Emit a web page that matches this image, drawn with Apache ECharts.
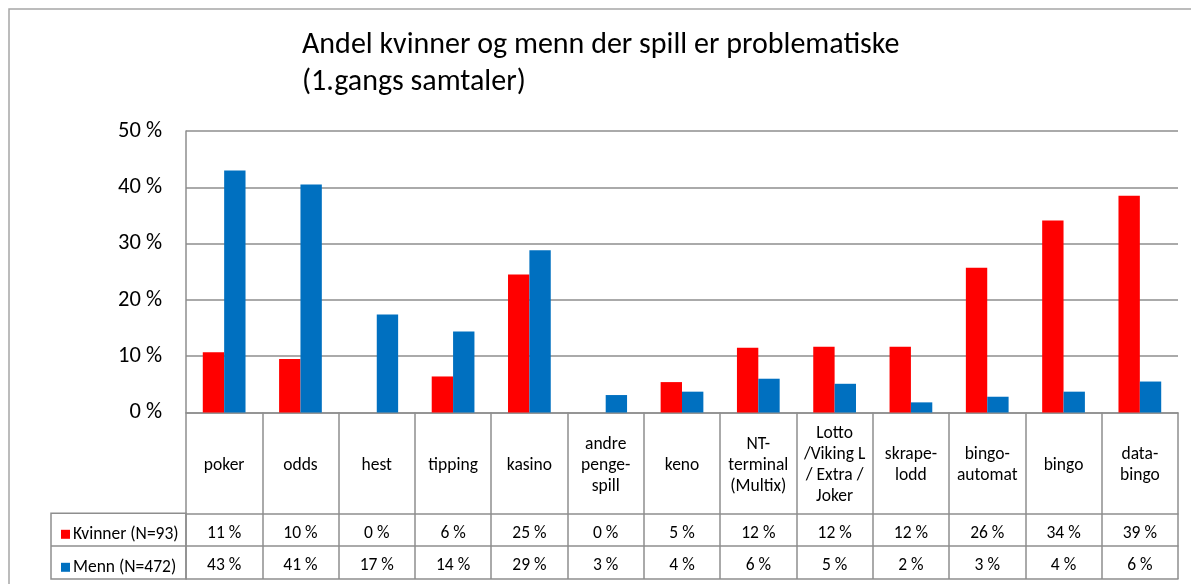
<!DOCTYPE html>
<html>
<head>
<meta charset="utf-8">
<script src="https://cdn.jsdelivr.net/npm/echarts@6/dist/echarts.min.js"></script>
<style>
  html, body { margin: 0; padding: 0; background: #fff; }
  #chart { width: 1191px; height: 584px; }
</style>
</head>
<body>
<div id="chart"></div>
<script>
// kategorier og verdier (andel i %)
var categories = ['poker', 'odds', 'hest', 'tipping', 'kasino', 'andre\npenge-\nspill', 'keno',
  'NT-\nterminal\n(Multix)', 'Lotto\n/Viking L\n/ Extra /\nJoker', 'skrape-\nlodd',
  'bingo-\nautomat', 'bingo', 'data-\nbingo'];
var kvinner = [10.7, 9.5, 0, 6.4, 24.5, 0, 5.4, 11.5, 11.7, 11.7, 25.7, 34.1, 38.5];
var menn = [43.0, 40.5, 17.4, 14.4, 28.8, 3.1, 3.7, 6.0, 5.1, 1.8, 2.8, 3.7, 5.5];
var seriesNames = ['Kvinner (N=93)', 'Menn (N=472)'];
var yTicks = [0, 10, 20, 30, 40, 50];

var FONT = 'Carlito, Lato, sans-serif';
var GRAY = '#8e8e8e';

// plassering av plott og tabell
var gridLeft = 186, gridTop = 131, gridRight = 13, gridBottom = 171.5;
var row1 = 100.8, row2 = 133.5, row3 = 166.5;   // tabellinjer under x-aksen
var legendLeft = 51;

var pct = function(v){ return Math.round(v) + ' %'; };

var chart = echarts.init(document.getElementById('chart'));
var axisBottom = 584 - gridBottom;

var option = {
  animation: false,
  textStyle: { fontFamily: FONT },
  title: {
    text: 'Andel kvinner og menn der spill er problematiske\n(1.gangs samtaler)',
    left: 302, top: 27, padding: 0,
    textStyle: { fontFamily: FONT, fontSize: 30, lineHeight: 37, fontWeight: 'normal', color: '#000' }
  },
  legend: {
    orient: 'vertical',
    left: legendLeft + 5, top: axisBottom + row1 + 5,
    itemWidth: 9, itemHeight: 9, itemGap: 11,
    icon: 'rect',
    data: seriesNames,
    textStyle: { fontFamily: FONT, fontSize: 17.5, lineHeight: 22, color: '#000', padding: [0, 0, 0, -2] }
  },
  grid: { left: gridLeft, top: gridTop, right: gridRight, bottom: gridBottom, containLabel: false },
  yAxis: {
    type: 'value', min: yTicks[0], max: yTicks[yTicks.length - 1], interval: 10,
    axisLine: { show: true, lineStyle: { color: GRAY, width: 1.5 } },
    axisTick: { show: false },
    splitLine: { lineStyle: { color: GRAY, width: 1.5 } },
    axisLabel: { formatter: '{value} %', fontSize: 22.5, color: '#000', margin: 24, fontFamily: FONT }
  },
  xAxis: [
    {
      type: 'category', data: categories, position: 'bottom',
      axisLine: { onZero: false, lineStyle: { color: GRAY, width: 1.5 } },
      axisTick: { show: true, interval: 0, length: row3, lineStyle: { color: GRAY, width: 1.5 } },
      axisLabel: { interval: 0, fontSize: 17.5, lineHeight: 21, color: '#000', margin: 53, verticalAlign: 'middle', fontFamily: FONT }
    },
    {
      type: 'category', data: categories, position: 'bottom', offset: row1,
      axisLine: { onZero: false, lineStyle: { color: GRAY, width: 1.5 } },
      axisTick: { show: false },
      axisLabel: { interval: 0, fontSize: 17.5, color: '#000', margin: 20, verticalAlign: 'middle', fontFamily: FONT,
        formatter: function(v, i){ return pct(kvinner[i]); } }
    },
    {
      type: 'category', data: categories, position: 'bottom', offset: row2,
      axisLine: { onZero: false, lineStyle: { color: GRAY, width: 1.5 } },
      axisTick: { show: false },
      axisLabel: { interval: 0, fontSize: 17.5, color: '#000', margin: 19.5, verticalAlign: 'middle', fontFamily: FONT,
        formatter: function(v, i){ return pct(menn[i]); } }
    },
    {
      type: 'category', data: categories, position: 'bottom', offset: row3,
      axisLine: { onZero: false, lineStyle: { color: GRAY, width: 1.5 } },
      axisTick: { show: false },
      axisLabel: { show: false }
    }
  ],
  series: [
    {
      name: seriesNames[0], type: 'bar', data: kvinner,
      barGap: '0%', barCategoryGap: '44%',
      itemStyle: { color: '#ff0000' }
    },
    {
      name: seriesNames[1], type: 'bar', data: menn,
      barGap: '0%', barCategoryGap: '44%',
      itemStyle: { color: '#0070c0' }
    }
  ],
  graphic: [
    // ytre ramme
    { type: 'rect', shape: { x: 9, y: 9, width: 1400, height: 800 }, style: { fill: null, stroke: '#a6a6a6', lineWidth: 1.5 }, silent: true },
    // forklaringskolonne i datatabellen
    { type: 'rect', shape: { x: legendLeft, y: axisBottom + row1, width: gridLeft - legendLeft, height: row3 - row1 },
      style: { fill: null, stroke: GRAY, lineWidth: 1.5 }, silent: true },
    { type: 'line', shape: { x1: legendLeft, y1: axisBottom + row2, x2: gridLeft, y2: axisBottom + row2 },
      style: { stroke: GRAY, lineWidth: 1.5 }, silent: true }
  ]
};

chart.setOption(option);
</script>
</body>
</html>
